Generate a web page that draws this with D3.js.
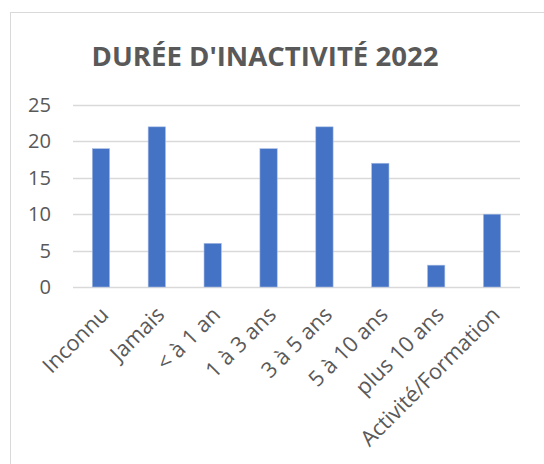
<!DOCTYPE html>
<html>
<head>
<meta charset="utf-8">
<script src="https://cdn.jsdelivr.net/npm/d3@7"></script>
<style>
  body { margin: 0; background: #fff; }
  svg { display: block; }
</style>
</head>
<body>
<svg id="chart"></svg>
<script>
// Données du graphique
const categories = ["Inconnu", "Jamais", "< à 1 an", "1 à 3 ans", "3 à 5 ans", "5 à 10 ans", "plus 10 ans", "Activité/Formation"];
const values = [19, 22, 6, 19, 22, 17, 3, 10];
const yTicks = [0, 5, 10, 15, 20, 25];
const title = "DURÉE D'INACTIVITÉ 2022";

const width = 544;
const height = 464;
const font = "'Open Sans', sans-serif";
const textColor = "#595959";

const svg = d3.select("#chart")
    .attr("width", width)
    .attr("height", height);

// Ajuste la taille de police pour obtenir une largeur donnée
function fitFont(sel, targetWidth) {
    const size = +sel.attr("font-size");
    const w = sel.node().getComputedTextLength();
    sel.attr("font-size", (size * targetWidth / w).toFixed(2));
    return size * targetWidth / w;
}

// Cadre du graphique
svg.append("rect")
    .attr("x", 10.5)
    .attr("y", 12.5)
    .attr("width", width)
    .attr("height", height)
    .attr("fill", "#fff")
    .attr("stroke", "#d9d9d9")
    .attr("stroke-width", 1);

// Titre
const titleText = svg.append("text")
    .attr("x", 265)
    .attr("y", 66)
    .attr("text-anchor", "middle")
    .attr("font-family", font)
    .attr("font-weight", "bold")
    .attr("font-size", 22)
    .attr("fill", textColor)
    .text(title);
fitFont(titleText, 347);

const plot = { left: 73, right: 520, top: 105, bottom: 287 };

const x = d3.scaleBand()
    .domain(categories)
    .range([plot.left, plot.right])
    .paddingInner(0.69)
    .paddingOuter(0.345);

const y = d3.scaleLinear()
    .domain([0, 25])
    .range([plot.bottom, plot.top]);

// Lignes de quadrillage
svg.append("g")
    .selectAll("line")
    .data(yTicks)
    .enter().append("line")
    .attr("x1", plot.left)
    .attr("x2", plot.right)
    .attr("y1", d => Math.round(y(d)) + 0.5)
    .attr("y2", d => Math.round(y(d)) + 0.5)
    .attr("stroke", "#d9d9d9")
    .attr("stroke-width", 1.3);

// Axe Y (étiquettes seulement)
const yAxis = svg.append("g")
    .attr("transform", `translate(${plot.left - 22},0)`)
    .call(d3.axisLeft(y).tickValues(yTicks).tickSize(0).tickPadding(0));
yAxis.select(".domain").remove();
yAxis.selectAll("text")
    .attr("font-family", font)
    .attr("font-size", 19)
    .attr("fill", textColor);
const tickSize = fitFont(yAxis.selectAll("text").filter(d => d === 25), 23);
yAxis.selectAll("text").attr("font-size", tickSize.toFixed(2));

// Barres
svg.append("g")
    .selectAll("rect")
    .data(values)
    .enter().append("rect")
    .attr("x", (d, i) => x(categories[i]))
    .attr("y", d => y(d))
    .attr("width", x.bandwidth())
    .attr("height", d => y(0) - y(d))
    .attr("fill", "#4472c4")
    .attr("stroke", "#a9bde3")
    .attr("stroke-width", 0.6);

// Axe X (étiquettes inclinées)
const xAxis = svg.append("g")
    .attr("transform", `translate(0,${plot.bottom})`)
    .call(d3.axisBottom(x).tickSize(0).tickPadding(0));
xAxis.select(".domain").remove();
xAxis.selectAll("text")
    .attr("font-family", font)
    .attr("font-size", 19)
    .attr("fill", textColor)
    .attr("text-anchor", "end")
    .attr("y", 0)
    .attr("dy", null)
    .attr("transform", "translate(9,29) rotate(-45)");
const labelSize = fitFont(xAxis.selectAll("text").filter(d => d === "Activité/Formation"), 186);
xAxis.selectAll("text").attr("font-size", labelSize.toFixed(2));
</script>
</body>
</html>
